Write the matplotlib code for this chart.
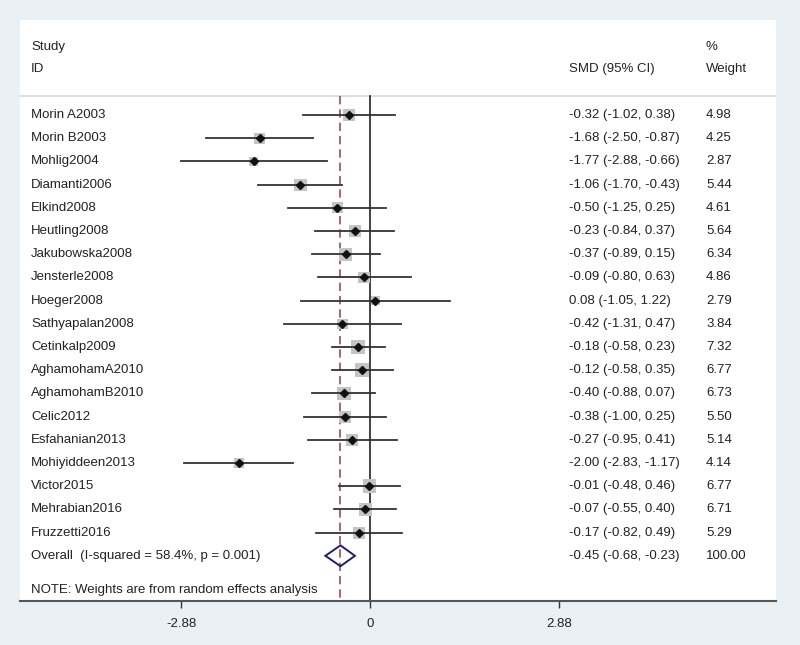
import matplotlib
matplotlib.use("Agg")
import matplotlib.pyplot as plt
from matplotlib.patches import Rectangle, Polygon
import numpy as np

plt.rcParams['font.family'] = ['Liberation Sans', 'DejaVu Sans']

studies = ["Morin A2003", "Morin B2003", "Mohlig2004", "Diamanti2006", "Elkind2008",
           "Heutling2008", "Jakubowska2008", "Jensterle2008", "Hoeger2008",
           "Sathyapalan2008", "Cetinkalp2009", "AghamohamA2010", "AghamohamB2010",
           "Celic2012", "Esfahanian2013", "Mohiyiddeen2013", "Victor2015",
           "Mehrabian2016", "Fruzzetti2016"]
smd = [-0.32, -1.68, -1.77, -1.06, -0.50, -0.23, -0.37, -0.09, 0.08, -0.42,
       -0.18, -0.12, -0.40, -0.38, -0.27, -2.00, -0.01, -0.07, -0.17]
lo = [-1.02, -2.50, -2.88, -1.70, -1.25, -0.84, -0.89, -0.80, -1.05, -1.31,
      -0.58, -0.58, -0.88, -1.00, -0.95, -2.83, -0.48, -0.55, -0.82]
hi = [0.38, -0.87, -0.66, -0.43, 0.25, 0.37, 0.15, 0.63, 1.22, 0.47,
      0.23, 0.35, 0.07, 0.25, 0.41, -1.17, 0.46, 0.40, 0.49]
weights = [4.98, 4.25, 2.87, 5.44, 4.61, 5.64, 6.34, 4.86, 2.79, 3.84,
           7.32, 6.77, 6.73, 5.50, 5.14, 4.14, 6.77, 6.71, 5.29]
overall = (-0.45, -0.68, -0.23)
overall_label = "Overall  (I-squared = 58.4%, p = 0.001)"
xticks = [-2.88, 0, 2.88]

W, H = 800, 645
fig = plt.figure(figsize=(8, 6.45), dpi=100)
fig.patch.set_facecolor('#eaf1f6')

# panel in pixels
pl, pr, pt, pb = 20, 776, 20, 601
ax = fig.add_axes([pl / W, 1 - pb / H, (pr - pl) / W, (pb - pt) / H])
ax.set_facecolor('white')

x0px, scale = 370.0, 65.6
xmin = (pl - x0px) / scale
xmax = (pr - x0px) / scale
row0, rowh = 115.0, 23.2
ymin_r = (pb - row0) / rowh
ymax_r = (pt - row0) / rowh
ax.set_xlim(xmin, xmax)
ax.set_ylim(ymin_r, ymax_r)

def px2x(p):
    return (p - x0px) / scale

def py2y(p):
    return (p - row0) / rowh

for s in ['top', 'right', 'left']:
    ax.spines[s].set_visible(False)
ax.spines['bottom'].set_color('#555555')
ax.spines['bottom'].set_linewidth(1.5)
ax.set_yticks([])
ax.set_xticks(xticks)
ax.set_xticklabels(["-2.88", "0", "2.88"])
ax.tick_params(axis='x', direction='out', length=5, width=1, color='#333333',
               labelsize=9.5, pad=7, labelcolor='#222222')

fs = 9.5
tc = '#222222'
top_line = py2y(96)
# header separator
ax.plot([xmin, xmax], [top_line, top_line], color='#d8d8d8', lw=1.2, clip_on=False)

# vertical lines
ax.plot([0, 0], [top_line, ymin_r], color='#222222', lw=1.2)
ax.plot([overall[0], overall[0]], [top_line, ymin_r], color='#a04a55', lw=1.2,
        dashes=(5, 3))

ktxt_study = px2x(31)
ktxt_smd = px2x(569)
ktxt_w = px2x(706)

ax.text(ktxt_study, py2y(47), "Study", fontsize=fs, color=tc, va='center', ha='left')
ax.text(ktxt_study, py2y(69), "ID", fontsize=fs, color=tc, va='center', ha='left')
ax.text(ktxt_w, py2y(47), "%", fontsize=fs, color=tc, va='center', ha='left')
ax.text(ktxt_smd, py2y(69), "SMD (95% CI)", fontsize=fs, color=tc, va='center', ha='left')
ax.text(ktxt_w, py2y(69), "Weight", fontsize=fs, color=tc, va='center', ha='left')

kbox = 5.2  # px per sqrt(weight)
for i, (name, m, l, h, w) in enumerate(zip(studies, smd, lo, hi, weights)):
    side_px = kbox * np.sqrt(w)
    bw = side_px / scale
    bh = side_px / rowh
    ax.add_patch(Rectangle((m - bw / 2, i - bh / 2), bw, bh, facecolor='#c4c4c4',
                           edgecolor='none', zorder=2))
    ax.plot([l, h], [i, i], color='#333333', lw=1.3, zorder=3)
    ax.plot([m], [i], marker='D', color='#111111', markersize=4, zorder=4)
    ax.text(ktxt_study, i, name, fontsize=fs, color=tc, va='center', ha='left')
    ax.text(ktxt_smd, i, f"{m:.2f} ({l:.2f}, {h:.2f})", fontsize=fs, color=tc,
            va='center', ha='left')
    ax.text(ktxt_w, i, f"{w:.2f}", fontsize=fs, color=tc, va='center', ha='left')

io = len(studies)
om, ol, oh = overall
dh = 0.45
ax.add_patch(Polygon([[ol, io], [om, io - dh], [oh, io], [om, io + dh]], closed=True,
                     facecolor='none', edgecolor='#1f1f6e', lw=1.4, zorder=5))
ax.text(ktxt_study, io, overall_label, fontsize=fs, color=tc, va='center', ha='left')
ax.text(ktxt_smd, io, f"{om:.2f} ({ol:.2f}, {oh:.2f})", fontsize=fs, color=tc,
        va='center', ha='left')
ax.text(ktxt_w, io, "100.00", fontsize=fs, color=tc, va='center', ha='left')

ax.text(ktxt_study, py2y(590), "NOTE: Weights are from random effects analysis",
        fontsize=fs, color=tc, va='center', ha='left')

fig.savefig("out.png", dpi=100, facecolor=fig.get_facecolor())
